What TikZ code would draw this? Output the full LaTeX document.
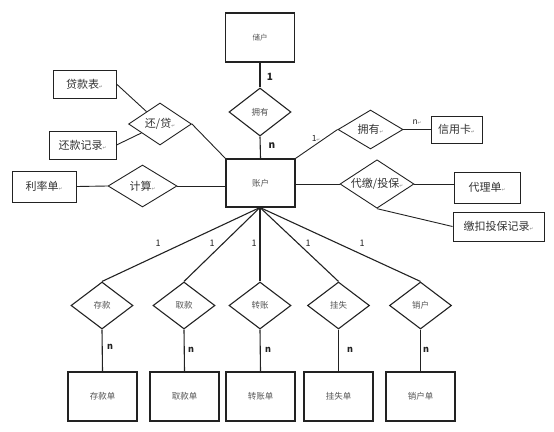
\documentclass[tikz,border=0pt]{standalone}
\usepackage{fontspec}
\setmainfont{Noto Sans CJK SC}
\newfontfamily\symfont{DejaVu Sans}
\usetikzlibrary{shapes.geometric}
\definecolor{ln}{HTML}{222222}
\definecolor{tx}{HTML}{333333}
\definecolor{txs}{HTML}{555555}
\newcommand\retmark{{\symfont\fontsize{4.5}{5}\selectfont\color{gray}↵}}
\tikzset{
  ent/.style={draw=ln, line width=1pt, rectangle, inner sep=0pt, font=\fontsize{11}{12}\selectfont, text=tx},
  sent/.style={draw=ln, line width=1.3pt, rectangle, inner sep=0pt, font=\fontsize{8.5}{9}\selectfont, text=txs},
  rel/.style={draw=ln, line width=0.9pt, diamond, inner sep=0pt, aspect=1.4, font=\fontsize{11}{12}\selectfont, text=tx},
  srel/.style={draw=ln, line width=1.1pt, diamond, inner sep=0pt, aspect=1.3, font=\fontsize{8.5}{9}\selectfont, text=txs},
  conn/.style={draw=ln, line width=0.9pt},
  sconn/.style={draw=ln, line width=1.1pt},
  card/.style={font=\fontsize{9}{10}\selectfont, text=ln},
  bcard/.style={font=\bfseries\fontsize{10}{11}\selectfont, text=ln},
}
\begin{document}
\begin{tikzpicture}[x=1pt,y=-1pt]
\useasboundingbox (0,0) rectangle (554,431);
% central entities
\node[sent, minimum width=69pt, minimum height=49pt, font=\fontsize{7.5}{8}\selectfont] (chuhu) at (260,37.5) {储户};
\node[srel, minimum width=62pt, minimum height=48pt] (yy1) at (260,112) {拥有};
\node[sent, minimum width=69pt, minimum height=48pt] (zh) at (260.5,183) {账户};
% left side
\node[ent, minimum width=63pt, minimum height=28pt] (dkb) at (84.5,84) {贷款表\retmark};
\node[ent, minimum width=67pt, minimum height=28pt] (hkjl) at (82.5,145) {还款记录\retmark};
\node[rel, minimum width=63pt, minimum height=42pt] (hd) at (160,124) {还/贷\retmark};
\node[ent, minimum width=64pt, minimum height=31pt] (llb) at (44,186.5) {利率单\retmark};
\node[rel, minimum width=69pt, minimum height=42pt] (js) at (142.5,186) {计算\retmark};
% right side
\node[rel, minimum width=65pt, minimum height=39pt] (yy2) at (370.5,129.5) {拥有\retmark};
\node[ent, minimum width=51pt, minimum height=27pt] (xyk) at (456.5,129.5) {信用卡\retmark};
\node[rel, minimum width=74pt, minimum height=46pt] (dj) at (377,184) {代缴/投保\retmark};
\node[ent, minimum width=66pt, minimum height=31pt] (dld) at (487,187.5) {代理单\retmark};
\node[ent, minimum width=91pt, minimum height=29pt] (jk) at (498.5,226.5) {缴扣投保记录\retmark};
% bottom relations
\node[srel, minimum width=62pt, minimum height=47pt] (ck) at (102,305.5) {存款};
\node[srel, minimum width=62pt, minimum height=47pt] (qk) at (184,305.5) {取款};
\node[srel, minimum width=62pt, minimum height=47pt] (zz) at (260,305.5) {转账};
\node[srel, minimum width=62pt, minimum height=47pt] (gs) at (338.5,305.5) {挂失};
\node[srel, minimum width=62pt, minimum height=47pt] (xh) at (420.5,305.5) {销户};
% bottom entities
\node[sent, minimum width=69pt, minimum height=49pt] (ckd) at (102.5,396.5) {存款单};
\node[sent, minimum width=69pt, minimum height=49pt] (qkd) at (184.5,396.5) {取款单};
\node[sent, minimum width=69pt, minimum height=49pt] (zzd) at (260.5,396.5) {转账单};
\node[sent, minimum width=69pt, minimum height=49pt] (gsd) at (338.5,396.5) {挂失单};
\node[sent, minimum width=69pt, minimum height=49pt] (xhd) at (420.5,396.5) {销户单};
% connectors
\draw[sconn] (chuhu.south) -- (yy1.north);
\draw[sconn] (yy1.south) -- (zh.north);
\node[bcard] (c1) at (270,77) {1};
\node[bcard] (c2) at (272,146) {n};
\draw[conn] (dkb.east) -- (hd);
\draw[conn] (hkjl.east) -- (hd);
\draw[conn] (hd.east) -- (zh.north west);
\draw[conn] (llb.east) -- (js.west);
\draw[conn] (js.east) -- (js.east -| zh.west);
\draw[conn] (zh.north east) -- (yy2.west);
\draw[conn] (yy2.east) -- (xyk.west);
\node[card, font=\fontsize{8.5}{9}\selectfont] (c3) at (316,138) {1\retmark};
\node[card, font=\fontsize{8.5}{9}\selectfont] (c4) at (417,122) {n\retmark};
\draw[conn] (dj.west -| zh.east) -- (dj.west);
\draw[conn] (dj.east) -- (dj.east -| dld.west);
\draw[conn] (dj.south) -- (jk.west);
% fan
\coordinate (fan) at (260,207.5);
\foreach \d in {ck,qk,zz,gs,xh}{
  \draw[sconn] (fan) -- (\d.north);
}
\node[card] (f1) at (158,243) {1};
\node[card] (f2) at (212,243) {1};
\node[card] (f3) at (254,243) {1};
\node[card] (f4) at (308,243) {1};
\node[card] (f5) at (362,243) {1};
\foreach \d/\e in {ck/ckd,qk/qkd,zz/zzd,gs/gsd,xh/xhd}{
  \draw[sconn] (\d.south) -- (\e.north);
}
\node[bcard, font=\bfseries\fontsize{9}{10}\selectfont] (n1) at (110,347) {n};
\node[bcard, font=\bfseries\fontsize{9}{10}\selectfont] (n2) at (191,350) {n};
\node[bcard, font=\bfseries\fontsize{9}{10}\selectfont] (n3) at (268,350) {n};
\node[bcard, font=\bfseries\fontsize{9}{10}\selectfont] (n4) at (350,350) {n};
\node[bcard, font=\bfseries\fontsize{9}{10}\selectfont] (n5) at (426,350) {n};
\end{tikzpicture}
\end{document}
